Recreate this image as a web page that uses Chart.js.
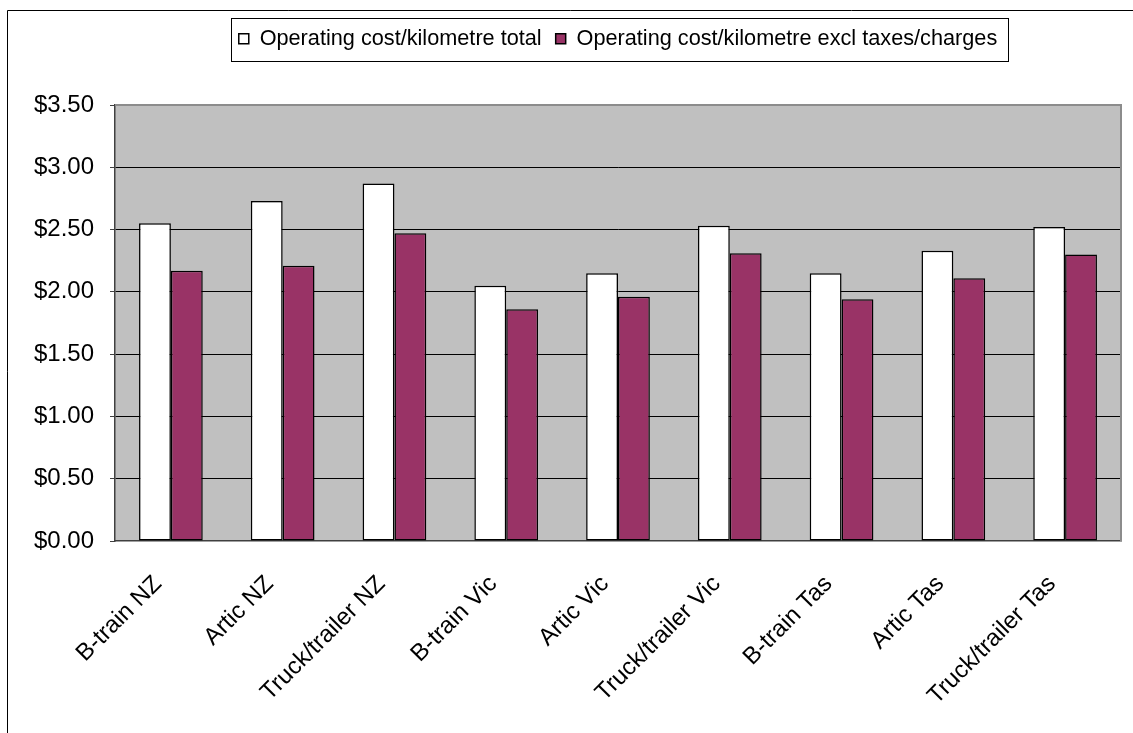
<!DOCTYPE html>
<html>
<head>
<meta charset="utf-8">
<title>Operating cost per kilometre</title>
<script src="https://cdn.jsdelivr.net/npm/chart.js@4.4.1/dist/chart.umd.min.js"></script>
<style>
    html, body { margin: 0; padding: 0; background: #ffffff; }
    #chart { display: block; }
</style>
</head>
<body>
<canvas id="chart" width="1133" height="733"></canvas>
<script>
const categories = [
    'B-train NZ', 'Artic NZ', 'Truck/trailer NZ',
    'B-train Vic', 'Artic Vic', 'Truck/trailer Vic',
    'B-train Tas', 'Artic Tas', 'Truck/trailer Tas'
];
const totalCost = [2.55, 2.73, 2.87, 2.05, 2.15, 2.53, 2.15, 2.33, 2.52];
const exclTaxesCost = [2.17, 2.21, 2.47, 1.86, 1.96, 2.31, 1.94, 2.11, 2.30];
const yTickValues = [0, 0.5, 1, 1.5, 2, 2.5, 3, 3.5];
const seriesNames = [
    'Operating cost/kilometre total',
    'Operating cost/kilometre excl taxes/charges'
];

const FONT = "'Liberation Sans', Arial, sans-serif";
const PLOT_BG = '#c0c0c0';
const PURPLE = '#993366';

// white page, outer frame and grey plot background
const backdrop = {
    id: 'backdrop',
    beforeInit(chart) {
        // leave room between the legend and the plot
        const legend = chart.legend;
        const originalFit = legend.fit;
        legend.fit = function fit() {
            originalFit.bind(legend)();
            this.height = 91;
        };
    },
    afterLayout(chart) {
        // centre the legend over the plot rather than the canvas
        chart.legend.left = chart.chartArea.left;
        chart.legend.right = chart.chartArea.right;
    },
    beforeDraw(chart) {
        const { ctx, width, height, chartArea } = chart;
        ctx.save();
        ctx.fillStyle = '#ffffff';
        ctx.fillRect(0, 0, width, height);

        ctx.strokeStyle = '#000000';
        ctx.lineWidth = 1;
        ctx.beginPath();
        ctx.moveTo(7.5, height);
        ctx.lineTo(7.5, 10.5);
        ctx.lineTo(width, 10.5);
        ctx.stroke();

        ctx.fillStyle = PLOT_BG;
        ctx.fillRect(chartArea.left, chartArea.top,
            chartArea.right - chartArea.left, chartArea.bottom - chartArea.top);
        ctx.restore();
    },
    afterDraw(chart) {
        const { ctx, chartArea } = chart;
        ctx.save();

        // top and right edge of the plot
        ctx.strokeStyle = '#8c8c8c';
        ctx.lineWidth = 2;
        ctx.beginPath();
        ctx.moveTo(chartArea.left, chartArea.top);
        ctx.lineTo(chartArea.right, chartArea.top);
        ctx.lineTo(chartArea.right, chartArea.bottom);
        ctx.stroke();

        // box round the legend entries
        const boxes = chart.legend.legendHitBoxes;
        if (boxes && boxes.length) {
            const left = Math.min(...boxes.map(b => b.left)) - 8;
            const right = Math.max(...boxes.map(b => b.left + b.width)) + 11;
            const top = Math.min(...boxes.map(b => b.top)) - 10;
            const bottom = Math.max(...boxes.map(b => b.top + b.height)) + 11;
            ctx.strokeStyle = '#000000';
            ctx.lineWidth = 1;
            ctx.strokeRect(Math.round(left) + 0.5, Math.round(top) + 0.5,
                Math.round(right - left), Math.round(bottom - top));
        }
        ctx.restore();
    }
};

new Chart(document.getElementById('chart'), {
    type: 'bar',
    data: {
        labels: categories,
        datasets: [
            {
                label: seriesNames[0],
                data: totalCost,
                backgroundColor: '#ffffff',
                borderColor: '#000000',
                borderWidth: 1.5,
                borderSkipped: false
            },
            {
                label: seriesNames[1],
                data: exclTaxesCost,
                backgroundColor: PURPLE,
                borderColor: '#000000',
                borderWidth: 1.5,
                borderSkipped: false
            }
        ]
    },
    options: {
        responsive: false,
        animation: false,
        events: [],
        layout: {
            padding: { top: 14, right: 12, bottom: 0, left: 0 }
        },
        datasets: {
            bar: {
                categoryPercentage: 0.57,
                barPercentage: 1.0
            }
        },
        scales: {
            x: {
                afterFit(scale) {
                    scale.height = 192;
                },
                grid: {
                    display: true,
                    color: 'transparent',
                    drawTicks: false
                },
                border: {
                    display: true,
                    color: '#404040',
                    width: 1.5
                },
                ticks: {
                    autoSkip: false,
                    minRotation: 45,
                    maxRotation: 45,
                    padding: 29,
                    labelOffset: -13,
                    color: '#000000',
                    font: { family: FONT, size: 24 }
                }
            },
            y: {
                min: 0,
                max: 3.5,
                afterFit(scale) {
                    scale.width = 115;
                },
                afterBuildTicks(scale) {
                    scale.ticks = yTickValues.map(v => ({ value: v }));
                },
                grid: {
                    color(ctx) {
                        const v = ctx.tick ? ctx.tick.value : null;
                        return (v === 0 || v === 3.5) ? 'transparent' : '#000000';
                    },
                    lineWidth: 1,
                    drawTicks: true,
                    tickLength: 5,
                    tickColor: '#404040'
                },
                border: {
                    display: true,
                    color: '#404040',
                    width: 1.5
                },
                ticks: {
                    padding: 16,
                    color: '#000000',
                    font: { family: FONT, size: 24 },
                    callback: value => '$' + Number(value).toFixed(2)
                }
            }
        },
        plugins: {
            legend: {
                position: 'top',
                align: 'center',
                labels: {
                    boxWidth: 10,
                    boxHeight: 10,
                    padding: 14,
                    color: '#000000',
                    font: { family: FONT, size: 21.7 }
                }
            },
            tooltip: { enabled: false }
        }
    },
    plugins: [backdrop]
});
</script>
</body>
</html>
